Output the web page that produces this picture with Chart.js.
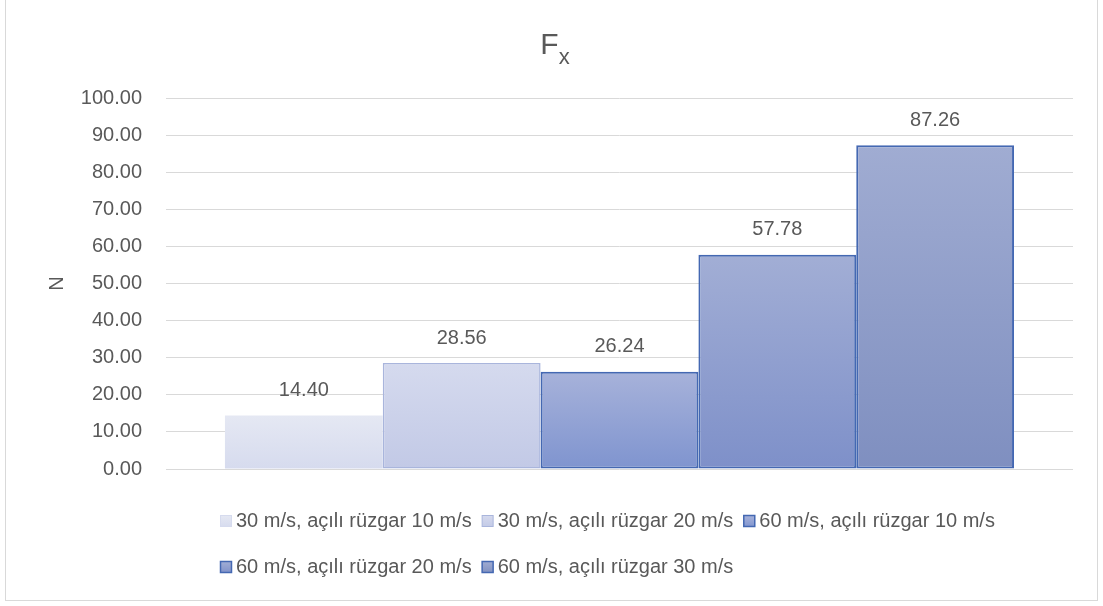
<!DOCTYPE html>
<html>
<head>
<meta charset="utf-8">
<script src="https://cdn.jsdelivr.net/npm/chart.js@4/dist/chart.umd.min.js"></script>
<style>
  html, body { margin: 0; padding: 0; background: #ffffff; }
  #wrap { width: 1103px; height: 606px; position: relative; }
  canvas { display: block; }
</style>
</head>
<body>
<div id="wrap"><canvas id="c" width="1103" height="606"></canvas></div>
<script>
// Data
const categories = [''];
const seriesNames = [
  '30 m/s, açılı rüzgar 10 m/s',
  '30 m/s, açılı rüzgar 20 m/s',
  '60 m/s, açılı rüzgar 10 m/s',
  '60 m/s, açılı rüzgar 20 m/s',
  '60 m/s, açılı rüzgar 30 m/s'
];
const seriesValues = [14.40, 28.56, 26.24, 57.78, 87.26];
const yTickValues = [0, 10, 20, 30, 40, 50, 60, 70, 80, 90, 100];

// Styles
const fillTop    = ['#e5e8f3', '#d5daee', '#a7b2da', '#a2aed5', '#a0acd2'];
const fillBottom = ['#d6dbee', '#c2c9e6', '#7f94cf', '#7e90c9', '#7f8fc0'];
const borderColors = ['#d6dbee', '#a9b5dc', '#4468b2', '#4468b2', '#4468b2'];
const borderWidths = [0, 1.5, 2, 2, 2];

const FONT = '"Liberation Sans", Arial, sans-serif';
const TEXT = '#595959';

function barGradient(i) {
  return (ctx) => {
    const chart = ctx.chart;
    const y = chart.scales.y;
    if (!chart.chartArea || !y) return fillTop[i];
    const top = y.getPixelForValue(seriesValues[i]);
    const base = y.getPixelForValue(0);
    const g = chart.ctx.createLinearGradient(0, top, 0, base);
    g.addColorStop(0, fillTop[i]);
    g.addColorStop(1, fillBottom[i]);
    return g;
  };
}

const datasets = seriesNames.map((name, i) => ({
  label: name,
  data: [seriesValues[i]],
  backgroundColor: barGradient(i),
  borderColor: borderColors[i],
  borderWidth: borderWidths[i],
  borderSkipped: false,
  categoryPercentage: 0.87,
  barPercentage: 1.0
}));

// White background and outer frame
const framePlugin = {
  id: 'frame',
  beforeDraw(chart) {
    const c = chart.ctx;
    c.save();
    c.fillStyle = '#ffffff';
    c.fillRect(0, 0, chart.width, chart.height);
    c.strokeStyle = '#d9d9d9';
    c.lineWidth = 1;
    c.strokeRect(5.5, -1.5, 1092, 602);
    c.restore();
  }
};

// Title "F" with subscript "x"
const titlePlugin = {
  id: 'subTitle',
  afterDraw(chart) {
    const c = chart.ctx;
    c.save();
    c.fillStyle = TEXT;
    c.textBaseline = 'alphabetic';
    c.textAlign = 'left';
    c.font = '30px ' + FONT;
    const main = 'F';
    const wMain = c.measureText(main).width;
    c.font = '22px ' + FONT;
    const sub = 'x';
    const wSub = c.measureText(sub).width;
    const cx = 555;
    const x0 = cx - (wMain + wSub) / 2;
    c.font = '30px ' + FONT;
    c.fillText(main, x0, 54);
    c.font = '22px ' + FONT;
    c.fillText(sub, x0 + wMain, 64);
    c.restore();
  }
};

// Value labels above each bar
const valueLabelPlugin = {
  id: 'valueLabels',
  afterDatasetsDraw(chart) {
    const c = chart.ctx;
    c.save();
    c.font = '20px ' + FONT;
    c.fillStyle = TEXT;
    c.textAlign = 'center';
    c.textBaseline = 'middle';
    chart.data.datasets.forEach((ds, i) => {
      const meta = chart.getDatasetMeta(i);
      meta.data.forEach((bar, j) => {
        const v = ds.data[j];
        c.fillText(v.toFixed(2), bar.x, bar.y - 25);
      });
    });
    c.restore();
  }
};

// Legend below the plot, wrapped into rows, left aligned as a block
const legendPlugin = {
  id: 'bottomLegend',
  afterDraw(chart) {
    const c = chart.ctx;
    const area = chart.chartArea;
    const box = 12, gap = 4, spacing = 10, rowGap = 46, firstRowY = 521;
    c.save();
    c.font = '20px ' + FONT;
    const items = chart.data.datasets.map((ds, i) => {
      const tw = c.measureText(ds.label).width;
      return { i, label: ds.label, w: box + gap + tw };
    });
    const maxW = area.right - area.left;
    const rows = [];
    let cur = [], curW = 0;
    items.forEach(it => {
      const add = cur.length ? spacing + it.w : it.w;
      if (cur.length && curW + add > maxW) { rows.push({ items: cur, w: curW }); cur = []; curW = 0; }
      curW += cur.length ? spacing + it.w : it.w;
      cur.push(it);
    });
    if (cur.length) rows.push({ items: cur, w: curW });
    const blockW = Math.max(...rows.map(r => r.w));
    const left = Math.round(607 - blockW / 2);
    rows.forEach((r, ri) => {
      let x = left;
      const y = firstRowY + ri * rowGap;
      r.items.forEach(it => {
        const bx = x + 0.5, by = Math.round(y - box / 2) + 0.5;
        const g = c.createLinearGradient(0, by, 0, by + box);
        g.addColorStop(0, fillTop[it.i]);
        g.addColorStop(1, fillBottom[it.i]);
        c.fillStyle = g;
        c.fillRect(bx, by, box - 1, box - 1);
        c.strokeStyle = borderColors[it.i];
        c.lineWidth = it.i >= 2 ? 1.5 : 1;
        c.strokeRect(bx, by, box - 1, box - 1);
        c.fillStyle = TEXT;
        c.textAlign = 'left';
        c.textBaseline = 'middle';
        c.fillText(it.label, x + box + gap, y);
        x += it.w + spacing;
      });
    });
    c.restore();
  }
};

new Chart(document.getElementById('c'), {
  type: 'bar',
  data: { labels: categories, datasets },
  options: {
    responsive: false,
    animation: false,
    devicePixelRatio: 1,
    layout: { padding: { left: 0, right: 30, top: 98, bottom: 137 } },
    plugins: {
      legend: { display: false },
      title: { display: false },
      tooltip: { enabled: false }
    },
    scales: {
      x: {
        type: 'category',
        display: false
      },
      y: {
        min: 0,
        max: 100,
        afterFit(scale) { scale.width = 166; },
        afterBuildTicks(scale) { scale.ticks = yTickValues.map(v => ({ value: v })); },
        ticks: {
          padding: 24,
          color: TEXT,
          font: { family: FONT, size: 20 },
          callback: (v) => Number(v).toFixed(2)
        },
        grid: { color: '#d9d9d9', lineWidth: 1, drawTicks: false },
        border: { display: false },
        title: {
          display: true,
          text: 'N',
          color: TEXT,
          font: { family: FONT, size: 20 },
          padding: { top: 45, bottom: 0 }
        }
      }
    }
  },
  plugins: [framePlugin, titlePlugin, valueLabelPlugin, legendPlugin]
});
</script>
</body>
</html>
